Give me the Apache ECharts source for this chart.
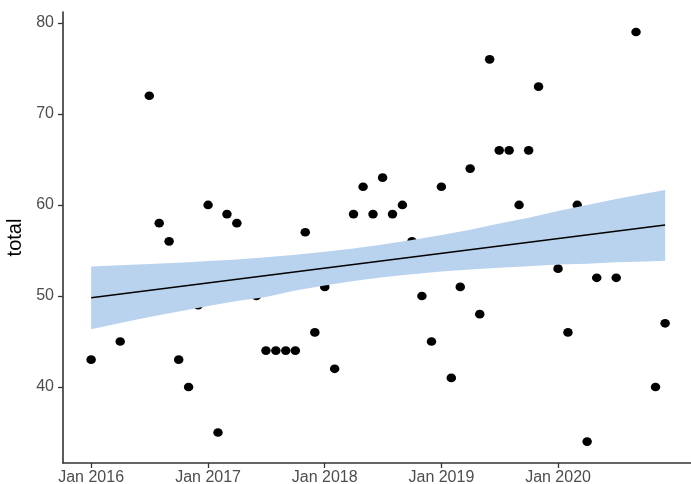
<!DOCTYPE html>
<html>
<head>
<meta charset="utf-8">
<title>total</title>
<script src="https://cdn.jsdelivr.net/npm/echarts@6/dist/echarts.min.js"></script>
<style>
  html, body { margin: 0; padding: 0; background: #ffffff; }
  #chart { width: 691px; height: 484px; }
</style>
</head>
<body>
<div id="chart"></div>
<script>
// Monthly totals
const months = [
  '2016-01-01', '2016-04-01', '2016-07-01', '2016-08-01', '2016-09-01', '2016-10-01', '2016-11-01', '2016-12-01',
  '2017-01-01', '2017-02-01', '2017-03-01', '2017-04-01', '2017-06-01', '2017-07-01', '2017-08-01', '2017-09-01',
  '2017-10-01', '2017-11-01', '2017-12-01',
  '2018-01-01', '2018-02-01', '2018-04-01', '2018-05-01', '2018-06-01', '2018-07-01', '2018-08-01', '2018-09-01',
  '2018-10-01', '2018-11-01', '2018-12-01',
  '2019-01-01', '2019-02-01', '2019-03-01', '2019-04-01', '2019-05-01', '2019-06-01', '2019-07-01', '2019-08-01',
  '2019-09-01', '2019-10-01', '2019-11-01',
  '2020-01-01', '2020-02-01', '2020-03-01', '2020-04-01', '2020-05-01', '2020-07-01', '2020-09-01', '2020-11-01',
  '2020-12-01'
];
const totals = [
  43, 45, 72, 58, 56, 43, 40, 49,
  60, 35, 59, 58, 50, 44, 44, 44,
  44, 57, 46,
  51, 42, 59, 62, 59, 63, 59, 60,
  56, 50, 45,
  62, 41, 51, 64, 48, 76, 66, 66,
  60, 66, 73,
  53, 46, 60, 34, 52, 52, 79, 40,
  47
];

// Linear trend and its confidence band
const fitMonths = ['2016-01-01', '2020-12-01'];
const fitValues = [49.8, 57.8];
const bandMonths = [
  '2016-01-01', '2016-04-01', '2016-07-01', '2016-10-01',
  '2017-01-01', '2017-04-01', '2017-07-01', '2017-10-01',
  '2018-01-01', '2018-04-01', '2018-07-01', '2018-10-01',
  '2019-01-01', '2019-04-01', '2019-07-01', '2019-10-01',
  '2020-01-01', '2020-04-01', '2020-07-01', '2020-10-01', '2020-12-01'
];
const bandLower = [
  46.35, 47.04, 47.7, 48.3,
  48.9, 49.45, 49.9, 50.6,
  51.15, 51.65, 52.05, 52.4,
  52.7, 52.9, 53.1, 53.26,
  53.45, 53.55, 53.7, 53.79, 53.88
];
const bandUpper = [
  53.25, 53.38, 53.5, 53.66,
  53.85, 54.02, 54.25, 54.52,
  54.85, 55.21, 55.65, 56.14,
  56.7, 57.28, 57.95, 58.6,
  59.35, 60.0, 60.65, 61.25, 61.65
];

// Axis ticks
const yTicks = [40, 50, 60, 70, 80];
const xTickYears = [2016, 2017, 2018, 2019, 2020];

// 'YYYY-MM-DD' -> timestamp
function ts(s) {
  const p = s.split('-').map(Number);
  return new Date(p[0], p[1] - 1, p[2]).getTime();
}
const xTicks = xTickYears.map(y => ts(y + '-01-01'));

const chart = echarts.init(document.getElementById('chart'), null, { renderer: 'canvas' });

const axisColor = '#333333';
const labelColor = '#4d4d4d';
const font = 'Liberation Sans, Arial, Helvetica, sans-serif';

// Confidence band: one closed polygon, upper edge left to right, lower edge back
function renderBand(params, api) {
  const pts = [];
  for (let i = 0; i < bandMonths.length; i++) {
    pts.push(api.coord([ts(bandMonths[i]), bandUpper[i]]));
  }
  for (let i = bandMonths.length - 1; i >= 0; i--) {
    pts.push(api.coord([ts(bandMonths[i]), bandLower[i]]));
  }
  return {
    type: 'polygon',
    shape: { points: pts },
    style: { fill: '#b9d3ee', stroke: null },
    silent: true
  };
}

chart.setOption({
  animation: false,
  backgroundColor: '#ffffff',
  grid: { left: 63, right: 0, top: 12, bottom: 21, containLabel: false, outerBoundsMode: 'none' },
  xAxis: {
    type: 'value',
    min: ts('2015-10-05'),
    max: ts('2021-02-20'),
    axisLine: { show: true, onZero: false, lineStyle: { color: axisColor, width: 1.6 } },
    axisTick: { show: true, length: 5, lineStyle: { color: axisColor, width: 1.3 }, customValues: xTicks },
    axisLabel: {
      customValues: xTicks,
      color: labelColor,
      fontFamily: font,
      fontSize: 16,
      margin: 7,
      formatter: v => 'Jan ' + new Date(v).getFullYear()
    },
    splitLine: { show: false }
  },
  yAxis: {
    type: 'value',
    min: 31.65,
    max: 81.2,
    name: 'total',
    nameLocation: 'middle',
    nameGap: 35,
    nameRotate: 90,
    nameTextStyle: { color: '#000000', fontFamily: font, fontSize: 20 },
    axisLine: { show: true, onZero: false, lineStyle: { color: axisColor, width: 1.6 } },
    axisTick: { show: true, length: 5, lineStyle: { color: axisColor, width: 1.3 }, customValues: yTicks },
    axisLabel: {
      customValues: yTicks,
      color: labelColor,
      fontFamily: font,
      fontSize: 16,
      margin: 9
    },
    splitLine: { show: false }
  },
  series: [
    {
      name: 'total',
      type: 'scatter',
      z: 1,
      symbol: 'circle',
      symbolSize: [9.5, 8.7],
      itemStyle: { color: '#000000', opacity: 1 },
      data: months.map((m, i) => [ts(m), totals[i]])
    },
    {
      name: 'band',
      type: 'custom',
      z: 3,
      silent: true,
      renderItem: renderBand,
      data: [[ts(bandMonths[0]), bandLower[0]]]
    },
    {
      name: 'trend',
      type: 'line',
      z: 4,
      symbol: 'none',
      silent: true,
      lineStyle: { color: '#000000', width: 1.4 },
      data: fitMonths.map((m, i) => [ts(m), fitValues[i]])
    }
  ]
});
</script>
</body>
</html>
